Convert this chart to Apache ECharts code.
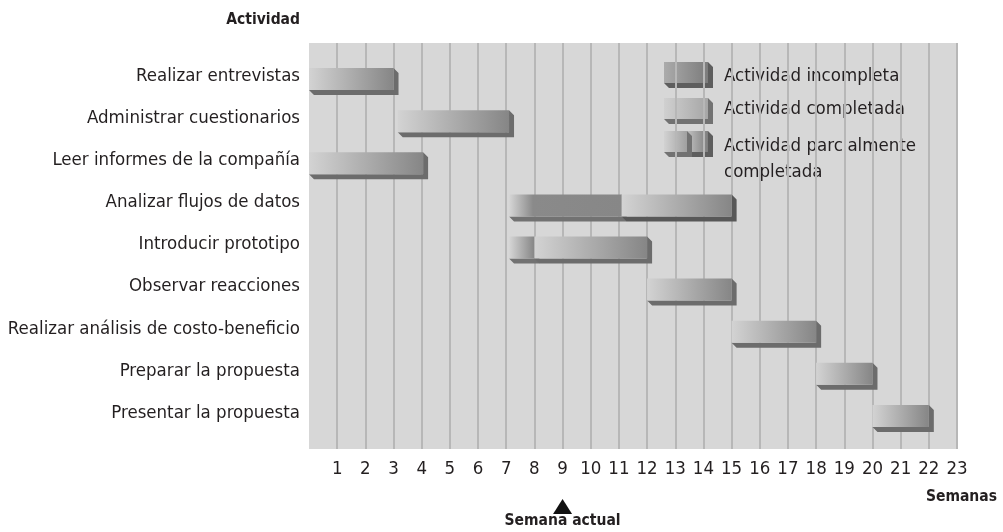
<!DOCTYPE html>
<html><head><meta charset="utf-8">
<script src="https://cdn.jsdelivr.net/npm/echarts@6/dist/echarts.min.js"></script>
<style>html,body{margin:0;padding:0;background:#fff}#c{width:1003px;height:532px}</style>
</head><body><div id="c"></div>
<script>
// ---- data ----
const activities = [
  'Realizar entrevistas',
  'Administrar cuestionarios',
  'Leer informes de la compañía',
  'Analizar flujos de datos',
  'Introducir prototipo',
  'Observar reacciones',
  'Realizar análisis de costo-beneficio',
  'Preparar la propuesta',
  'Presentar la propuesta'
];
const weekTicks = [1,2,3,4,5,6,7,8,9,10,11,12,13,14,15,16,17,18,19,20,21,22,23];
const completeStart   = [0, 3.15, 0, 11.1, 8, 12, 15, 18, 20];
const completeEnd     = [3, 7.1, 4.05, 15, 12, 15, 18, 20, 22];
const incompleteStart = [null, null, null, 7.1, 7.1, null, null, null, null];
const incompleteEnd   = [null, null, null, 11.1, 8, null, null, null, null];
const currentWeek = 9;
const legendLabels = ['Actividad incompleta', 'Actividad completada', 'Actividad parcialmente\ncompletada'];

// ---- styling ----
const FONT = '"DejaVu Sans Condensed", "Liberation Sans Narrow", "Roboto", sans-serif';
const FS = 18.5;
const TXT = '#231f20';
const DEPTH = 5;
const SHADOW = '#6c6c6c';
const LG = echarts.graphic.LinearGradient;

function completeFill() {
  return new LG(0, 0, 1, 0, [{offset: 0, color: '#d3d3d3'}, {offset: 1, color: '#868686'}]);
}
function incompleteFill(w) {
  const k = Math.min(0.95, 24 / Math.max(w, 1));
  return new LG(0, 0, 1, 0, [{offset: 0, color: '#d6d6d6'}, {offset: k, color: '#8a8a8a'}, {offset: 1, color: '#878787'}]);
}
function block(x0, x1, y0, y1, fill, shadow) {
  const d = DEPTH;
  return [
    {type: 'polygon', shape: {points: [[x0, y1], [x1, y1], [x1, y0], [x1 + d, y0 + d], [x1 + d, y1 + d], [x0 + d, y1 + d]]}, style: {fill: shadow || SHADOW}},
    {type: 'rect', shape: {x: x0, y: y0, width: x1 - x0, height: y1 - y0}, style: {fill: fill}}
  ];
}

const barData = [];
activities.forEach((a, i) => {
  if (incompleteStart[i] != null) barData.push([incompleteStart[i], incompleteEnd[i], i, 1]);
  barData.push([completeStart[i], completeEnd[i], i, 0]);
});

const chart = echarts.init(document.getElementById('c'), null, {renderer: 'canvas'});

// legend graphics
const legendEls = [];
const lx0 = 664, lx1 = 708, lh = 21;
const lTops = [62, 98, 131];
legendEls.push(...block(lx0, lx1, lTops[0], lTops[0] + lh, new LG(0, 0, 1, 0, [{offset: 0, color: '#ababab'}, {offset: 1, color: '#7c7c7c'}]), '#5e5e5e'));
legendEls.push(...block(lx0, lx1, lTops[1], lTops[1] + lh, new LG(0, 0, 1, 0, [{offset: 0, color: '#d0d0d0'}, {offset: 1, color: '#a6a6a6'}]), '#727272'));
legendEls.push(...block(687, lx1, lTops[2], lTops[2] + lh, new LG(0, 0, 1, 0, [{offset: 0, color: '#c2c2c2'}, {offset: 1, color: '#7e7e7e'}]), '#5e5e5e'));
legendEls.push(...block(lx0, 687, lTops[2], lTops[2] + lh, new LG(0, 0, 1, 0, [{offset: 0, color: '#d2d2d2'}, {offset: 1, color: '#a0a0a0'}]), '#727272'));
const lTextY = [76, 109, 133];
legendLabels.forEach((t, i) => {
  legendEls.push({type: 'text', style: {text: t, x: 724, y: lTextY[i], fill: TXT, font: FS + 'px ' + FONT,
    lineHeight: 26, textAlign: 'left', align: 'left',
    textVerticalAlign: i < 2 ? 'middle' : 'top', verticalAlign: i < 2 ? 'middle' : 'top'}});
});

const option = {
  animation: false,
  backgroundColor: '#ffffff',
  textStyle: {fontFamily: FONT},
  grid: [
    {left: 309, right: 46, top: 43, bottom: 83, show: true, backgroundColor: '#d7d7d7', borderWidth: 0, containLabel: false, outerBoundsMode: 'none'},
    {left: 309, right: 46, top: 55, height: 379, containLabel: false, outerBoundsMode: 'none'}
  ],
  xAxis: [
    {type: 'value', gridIndex: 0, min: 0, max: 23, interval: 1,
     axisLine: {show: false}, axisTick: {show: false},
     splitLine: {show: true, showMinLine: false, showMaxLine: true, lineStyle: {color: '#b7b7b7', width: 2}},
     axisLabel: {fontSize: FS, color: TXT, fontFamily: FONT, margin: 11,
       formatter: v => weekTicks.includes(v) ? String(v) : ''}},
    {type: 'value', gridIndex: 1, min: 0, max: 23, show: false}
  ],
  yAxis: [
    {type: 'value', gridIndex: 0, min: 0, max: 1, show: false},
    {type: 'category', gridIndex: 1, data: activities, inverse: true,
     axisLine: {show: false}, axisTick: {show: false}, splitLine: {show: false},
     axisLabel: {fontSize: FS, color: TXT, fontFamily: FONT, margin: 9}}
  ],
  graphic: [
    {type: 'text', style: {text: 'Actividad', x: 300, y: 20, fill: TXT, font: 'bold 15.5px ' + FONT, textAlign: 'right', align: 'right', textVerticalAlign: 'middle', verticalAlign: 'middle'}},
    {type: 'text', style: {text: 'Semanas', x: 997, y: 497, fill: TXT, font: 'bold 15.5px ' + FONT, textAlign: 'right', align: 'right', textVerticalAlign: 'middle', verticalAlign: 'middle'}},
    {type: 'group', children: legendEls}
  ],
  series: [
    {type: 'custom', xAxisIndex: 1, yAxisIndex: 1, data: barData,
     encode: {x: [0, 1], y: 2},
     renderItem: function (params, api) {
       const s = api.coord([api.value(0), api.value(2)]);
       const e = api.coord([api.value(1), api.value(2)]);
       const y0 = s[1] - 8, y1 = s[1] + 14;
       const w = e[0] - s[0];
       const fill = api.value(3) === 1 ? incompleteFill(w) : completeFill();
       const shadow = api.value(3) === 1 ? '#727272' : (api.value(2) === 3 ? '#585858' : SHADOW);
       return {type: 'group', children: block(s[0], e[0], y0, y1, fill, shadow)};
     }},
    {type: 'custom', xAxisIndex: 0, yAxisIndex: 0, data: [[currentWeek]], clip: false,
     encode: {x: 0},
     renderItem: function (params, api) {
       const p = api.coord([api.value(0), 0]);
       const x = p[0], base = p[1];
       return {type: 'group', children: [
         {type: 'polygon', shape: {points: [[x, base + 50], [x + 9.5, base + 65], [x - 9.5, base + 65]]}, style: {fill: '#111'}},
         {type: 'text', style: {text: 'Semana actual', x: x, y: base + 72, fill: TXT, font: 'bold 15.5px ' + FONT,
           textAlign: 'center', align: 'center', textVerticalAlign: 'middle', verticalAlign: 'middle'}}
       ]};
     }}
  ]
};
chart.setOption(option);
</script>
</body></html>
